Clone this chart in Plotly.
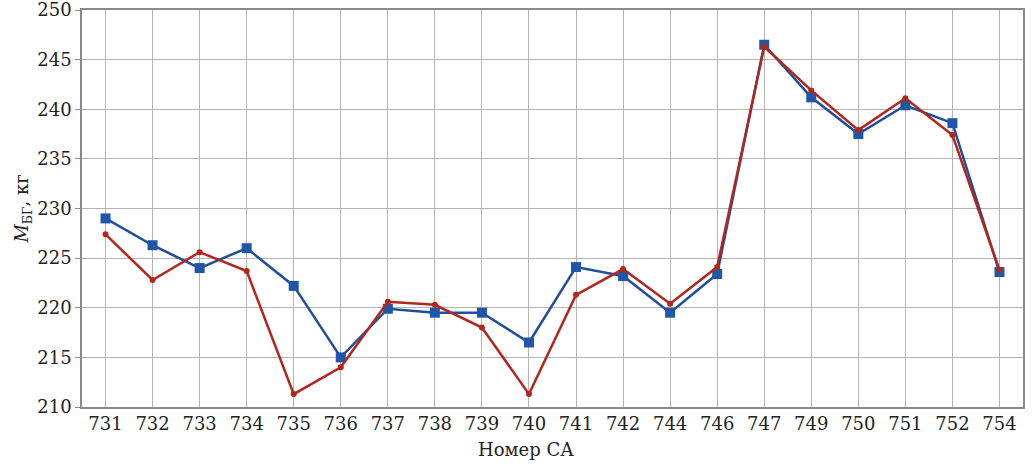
import plotly.graph_objs as go

# Номера СА (категории оси X)
sc_numbers = ["731", "732", "733", "734", "735", "736", "737", "738", "739", "740",
              "741", "742", "744", "746", "747", "749", "750", "751", "752", "754"]

# Масса, кг — синяя серия (квадраты)
mass_blue = [229.0, 226.3, 224.0, 226.0, 222.2, 215.0, 219.9, 219.5, 219.5, 216.5,
             224.1, 223.2, 219.5, 223.4, 246.5, 241.2, 237.5, 240.4, 238.6, 223.6]

# Масса, кг — красная серия (точки)
mass_red = [227.4, 222.8, 225.6, 223.7, 211.3, 214.0, 220.6, 220.3, 218.0, 211.3,
            221.3, 223.9, 220.4, 224.1, 246.3, 241.9, 237.9, 241.1, 237.4, 223.8]

y_ticks = [210, 215, 220, 225, 230, 235, 240, 245, 250]

font_family = "DejaVu Serif"

fig = go.Figure()

fig.add_trace(go.Scatter(
    x=sc_numbers,
    y=mass_blue,
    mode="lines+markers",
    line=dict(color="#1f4f9c", width=2.5),
    marker=dict(symbol="square", size=10, color="#1f56a8"),
    showlegend=False,
))

fig.add_trace(go.Scatter(
    x=sc_numbers,
    y=mass_red,
    mode="lines+markers",
    line=dict(color="#b3261e", width=2.5),
    marker=dict(symbol="circle", size=6, color="#b3261e"),
    showlegend=False,
))

fig.update_layout(
    width=1034,
    height=464,
    margin=dict(l=82, r=11, t=10, b=57),
    plot_bgcolor="white",
    paper_bgcolor="white",
    font=dict(family=font_family, size=18, color="#222222"),
    xaxis=dict(
        type="category",
        range=[-0.5, 19.5],
        automargin=False,
        showgrid=True,
        gridcolor="#b4b4b4",
        gridwidth=1,
        showline=True,
        linecolor="#8a8a8a",
        linewidth=1.5,
        mirror=True,
        ticks="",
        tickfont=dict(family=font_family, size=18),
    ),
    yaxis=dict(
        range=[210, 250],
        tickvals=y_ticks,
        automargin=False,
        ticklabeloverflow="allow",
        showgrid=True,
        gridcolor="#b4b4b4",
        gridwidth=1,
        showline=True,
        linecolor="#8a8a8a",
        linewidth=1.5,
        mirror=True,
        ticks="outside",
        ticklen=5,
        tickcolor="#8a8a8a",
        tickfont=dict(family=font_family, size=18),
        zeroline=False,
        title=dict(text="<i>M</i><sub>БГ</sub>, кг", font=dict(family=font_family, size=18), standoff=4),
    ),
    # подпись оси X чуть левее центра, как в оригинале
    annotations=[dict(
        text="Номер СА",
        xref="paper", yref="paper",
        x=0.472, y=0,
        xanchor="center", yanchor="top",
        yshift=-30,
        showarrow=False,
        font=dict(family=font_family, size=18, color="#222222"),
    )],
)

# убрать стандартный отступ страницы в 8px и панель инструментов
fig.write_html(
    "out.html",
    config={"displayModeBar": False},
    post_script="document.body.style.margin='0px';",
)
